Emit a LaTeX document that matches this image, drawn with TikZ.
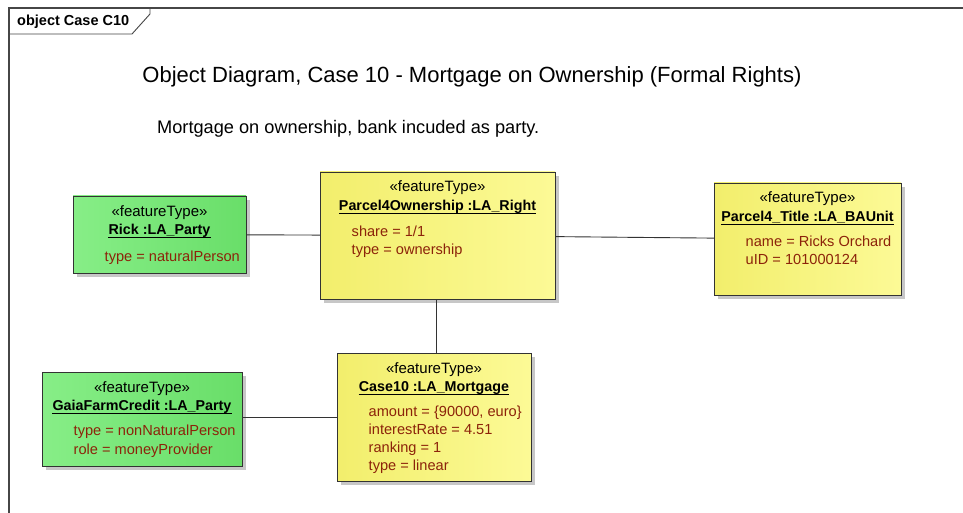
\documentclass[tikz,border=0pt]{standalone}
\usepackage{fontspec}
\setmainfont{Liberation Sans}
\usetikzlibrary{calc,shadows}

\definecolor{framegray}{RGB}{70,70,70}
\definecolor{attrred}{RGB}{140,35,10}
\definecolor{greenL}{RGB}{135,238,135}
\definecolor{greenR}{RGB}{105,222,105}
\definecolor{yellowL}{RGB}{242,238,108}
\definecolor{yellowR}{RGB}{252,250,150}

\tikzset{
  objbox/.style={draw=black!80, line width=0.9pt, anchor=north west, inner sep=0pt, outer sep=0pt,
    shading=axis, shading angle=90,
    drop shadow={shadow xshift=4pt, shadow yshift=-4pt, fill=black!40, opacity=0.55}},
  partybox/.style={objbox, left color=greenL, right color=greenR},
  rightbox/.style={objbox, left color=yellowL, right color=yellowR},
  stereo/.style={anchor=base, inner sep=0pt, font=\fontsize{15}{17}\selectfont},
  objname/.style={anchor=base, inner sep=0pt, font=\fontsize{14.3}{16}\selectfont\bfseries},
  attr/.style={anchor=base west, inner sep=0pt, text=attrred, font=\fontsize{14.6}{16}\selectfont},
  link/.style={draw=black!80, line width=0.9pt},
  uline/.style={draw=black, line width=0.9pt}
}

% one object: box name, stereotype and underlined instance name
\newcommand{\objhead}[2]{%
  \node[stereo] (#1-st) at ($(#1.north)+(0,20)$) {«featureType»};
  \node[objname] (#1-nm) at ($(#1.north)+(0,38)$) {#2};
  \draw[uline] ([yshift=-3pt]#1-nm.base west) -- ([yshift=-3pt]#1-nm.base east);
}

\begin{document}
\begin{tikzpicture}[x=1pt, y=-1pt]
\useasboundingbox (0,0) rectangle (963,513);
\fill[white] (0,0) rectangle (963,513);

% diagram frame with its name tab
\draw[framegray, line width=1.4pt] (9,513) -- (9,8) -- (963,8);
\draw[framegray, line width=0.9pt] (9,34) -- (132,34) -- (150,14) -- (150,8);
\node[anchor=base west, inner sep=0pt, font=\fontsize{14.5}{16}\selectfont\bfseries] (tab) at (17,26) {object Case C10};

% headings
\node[anchor=base, inner sep=0pt, font=\fontsize{22}{26}\selectfont] (title) at (472,83) {Object Diagram, Case 10 - Mortgage on Ownership (Formal Rights)};
\node[anchor=base west, inner sep=0pt, font=\fontsize{18.2}{21}\selectfont] (subtitle) at (157,134) {Mortgage on ownership, bank incuded as party.};

% object boxes
\node[partybox, minimum width=173pt, minimum height=77pt] (rick) at (73,196) {};
\node[rightbox, minimum width=235pt, minimum height=127pt] (own) at (320,172) {};
\node[rightbox, minimum width=187pt, minimum height=112pt] (title4) at (714,183) {};
\node[partybox, minimum width=200pt, minimum height=94pt] (gaia) at (42,372) {};
\node[rightbox, minimum width=194pt, minimum height=128pt] (mort) at (337,353) {};

% links
\draw[link] (rick) -- (own);
\draw[link] (own) -- (title4);
\draw[link] (own.south -| 436,0) -- (mort.north -| 436,0);
\draw[link] (gaia.east |- 0,417) -- (mort.west |- 0,417);

% texts
\objhead{rick}{Rick :LA\_Party}
\node[attr] (rick-a1) at ($(rick.north west)+(31.5,65)$) {type = naturalPerson};

\objhead{own}{Parcel4Ownership :LA\_Right}
\node[attr] (own-a1) at ($(own.north west)+(31.5,64)$) {share = 1/1};
\node[attr] (own-a2) at ($(own.north west)+(31.5,82)$) {type = ownership};

\objhead{title4}{Parcel4\_Title :LA\_BAUnit}
\node[attr] (title4-a1) at ($(title4.north west)+(31.5,63)$) {name = Ricks Orchard};
\node[attr] (title4-a2) at ($(title4.north west)+(31.5,81)$) {uID = 101000124};

\objhead{gaia}{GaiaFarmCredit :LA\_Party}
\node[attr] (gaia-a1) at ($(gaia.north west)+(31.5,63)$) {type = nonNaturalPerson};
\node[attr] (gaia-a2) at ($(gaia.north west)+(31.5,82)$) {role = moneyProvider};

\objhead{mort}{Case10 :LA\_Mortgage}
\node[attr] (mort-a1) at ($(mort.north west)+(31.5,63)$) {amount = \{90000, euro\}};
\node[attr] (mort-a2) at ($(mort.north west)+(31.5,81)$) {interestRate = 4.51};
\node[attr] (mort-a3) at ($(mort.north west)+(31.5,99)$) {ranking = 1};
\node[attr] (mort-a4) at ($(mort.north west)+(31.5,117)$) {type = linear};
\end{tikzpicture}
\end{document}
